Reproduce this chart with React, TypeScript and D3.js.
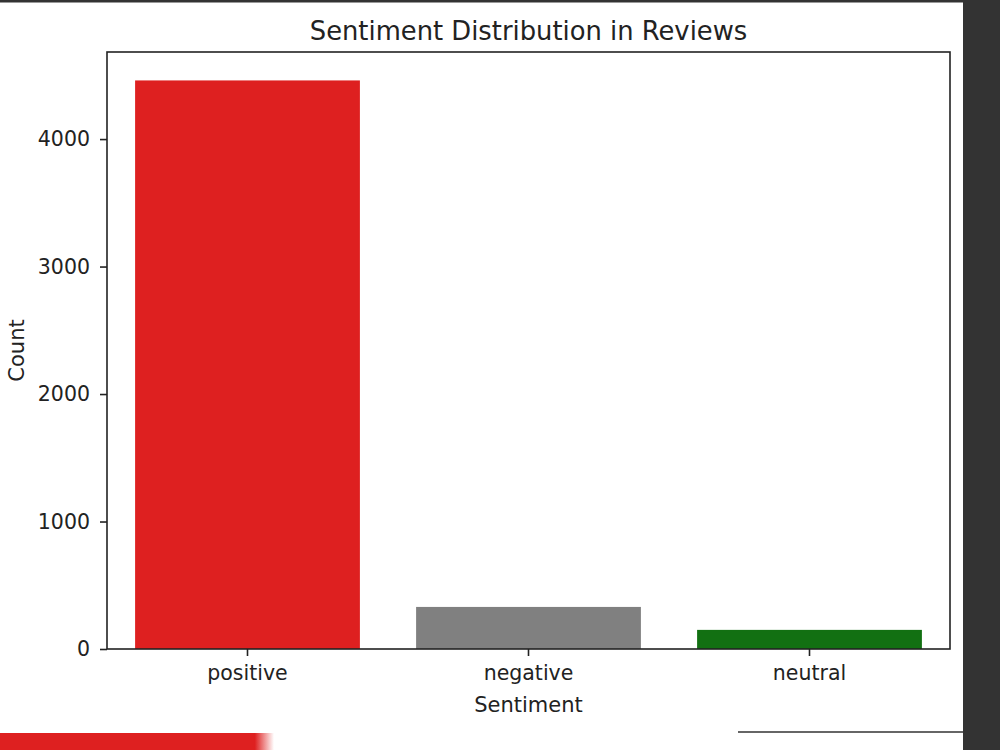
import React, { useEffect, useRef } from "react";
import * as d3 from "d3";

const categories = ["positive", "negative", "neutral"];
const counts = [4460, 330, 150];
const barColors = ["#de2020", "#808080", "#127012"];
const yTicks = [0, 1000, 2000, 3000, 4000];

const W = 1000;
const H = 750;
const FONT = "DejaVu Sans, sans-serif";

function App() {
  const ref = useRef<SVGSVGElement | null>(null);

  useEffect(() => {
    const svg = d3.select(ref.current);
    svg.selectAll("*").remove();

    const m = { left: 107, right: 950, top: 52, bottom: 649 };

    // screenshot frame bits around the figure
    svg.append("rect").attr("x", 0).attr("y", 0).attr("width", W).attr("height", H).attr("fill", "#fff");
    svg.append("rect").attr("x", 0).attr("y", 0).attr("width", W).attr("height", 2.5).attr("fill", "#333");
    svg.append("rect").attr("x", 963).attr("y", 0).attr("width", W - 963).attr("height", H).attr("fill", "#333");
    svg.append("line").attr("x1", 738).attr("x2", 963).attr("y1", 732).attr("y2", 732).attr("stroke", "#333").attr("stroke-width", 1.5);
    const grad = svg.append("defs").append("linearGradient").attr("id", "fade");
    grad.append("stop").attr("offset", "0.93").attr("stop-color", "#de2020");
    grad.append("stop").attr("offset", "1").attr("stop-color", "#de2020").attr("stop-opacity", 0);
    svg.append("rect").attr("x", 0).attr("y", 733).attr("width", 274).attr("height", H - 733).attr("fill", "url(#fade)");

    const x = d3.scaleBand().domain(categories).range([m.left, m.right]).paddingInner(0.2).paddingOuter(0.1);
    const yMax = d3.max(counts)! * 1.05;
    const y = d3.scaleLinear().domain([0, yMax]).range([m.bottom, m.top]);

    const g = svg.append("g");
    g.selectAll("rect.bar")
      .data(counts)
      .enter()
      .append("rect")
      .attr("class", "bar")
      .attr("x", (d, i) => x(categories[i])!)
      .attr("width", x.bandwidth())
      .attr("y", d => y(d))
      .attr("height", d => m.bottom - y(d))
      .attr("fill", (d, i) => barColors[i]);

    // axes
    const yAxis = svg.append("g").attr("transform", `translate(${m.left},0)`)
      .call(d3.axisLeft(y).tickValues(yTicks).tickSize(7).tickPadding(10).tickFormat(d3.format("d")));
    const xAxis = svg.append("g").attr("transform", `translate(0,${m.bottom})`)
      .call(d3.axisBottom(x).tickSize(7).tickPadding(9));
    [yAxis, xAxis].forEach(a => {
      a.select(".domain").remove();
      a.selectAll("line").attr("stroke", "#222").attr("stroke-width", 1.6);
      a.selectAll("text").attr("font-family", FONT).attr("font-size", 20.5).attr("fill", "#222");
    });

    // spines
    svg.append("rect").attr("x", m.left).attr("y", m.top)
      .attr("width", m.right - m.left).attr("height", m.bottom - m.top)
      .attr("fill", "none").attr("stroke", "#222").attr("stroke-width", 1.6);

    svg.append("text").attr("x", (m.left + m.right) / 2).attr("y", 40)
      .attr("text-anchor", "middle").attr("font-family", FONT).attr("font-size", 25.8).attr("fill", "#222")
      .text("Sentiment Distribution in Reviews");
    svg.append("text").attr("x", (m.left + m.right) / 2).attr("y", 712)
      .attr("text-anchor", "middle").attr("font-family", FONT).attr("font-size", 21).attr("fill", "#222")
      .text("Sentiment");
    svg.append("text").attr("transform", `translate(24,${(m.top + m.bottom) / 2}) rotate(-90)`)
      .attr("text-anchor", "middle").attr("font-family", FONT).attr("font-size", 21).attr("fill", "#222")
      .text("Count");
  }, []);

  return (
    <svg ref={ref} width={W} height={H} style={{ position: "absolute", left: 0, top: 0, display: "block" }} />
  );
}

export default App;
